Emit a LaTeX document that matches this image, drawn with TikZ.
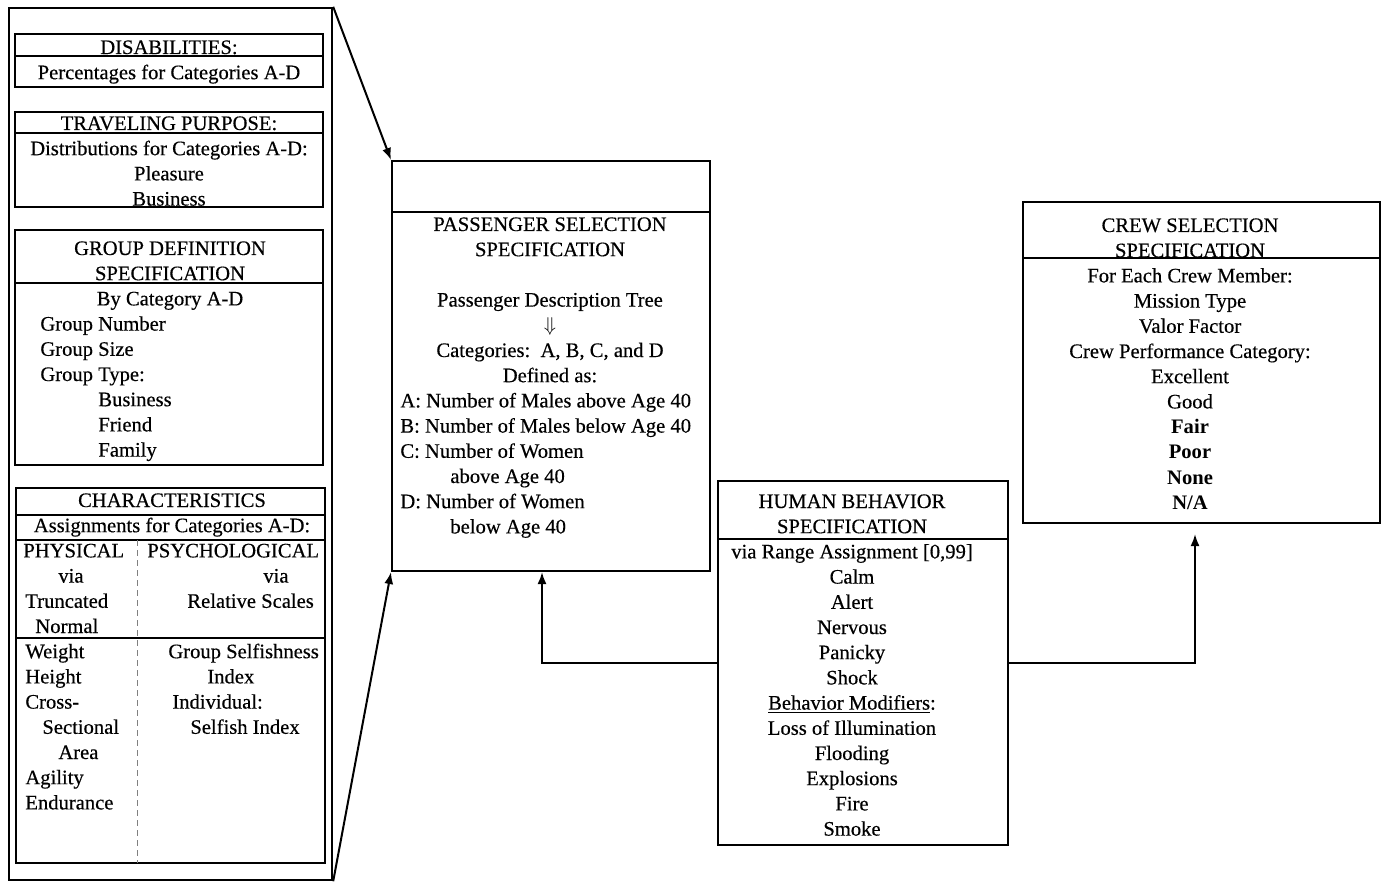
\documentclass[tikz,border=0pt]{standalone}
\usepackage{fontspec}
\setmainfont{Liberation Serif}[UprightFeatures={FakeBold=0.4}]
\usetikzlibrary{fit, arrows.meta}

\newcommand\specfont{\fontsize{10.3}{12.6}\selectfont}
\newcommand\specstep{25.2}
% centred rows: name, x, first baseline, texts
\newcommand\speclines[4]{
  \foreach \t [count=\i from 0] in {#4}
    \node[txt] (#1-\i) at (#2, #3 + \specstep*\i) {\t};
}
% left aligned rows: name, first baseline, x/text pairs
\newcommand\specrows[3]{
  \foreach \px/\t [count=\i from 0] in {#3}
    \node[txtl] (#1-\i) at (\px, #2 + \specstep*\i) {\t};
}

\tikzset{
  box/.style={draw, line width=1pt, inner sep=0pt},
  rule/.style={line width=1pt},
  heavy/.style={line width=1.4pt},
  split/.style={densely dashed, line width=0.4pt, gray},
  txt/.style={font=\specfont, inner sep=0pt, anchor=base},
  txtl/.style={txt, anchor=base west},
  arr/.style={-{Latex[length=6pt, width=4.5pt]}, line width=1pt},
}

\begin{document}
\begin{tikzpicture}[x=0.5pt, y=-0.5pt]
  \useasboundingbox (0,0) rectangle (1386,882);

  % left panel
  \node[box, line width=1.2pt, fit={(9,8) (332,880)}] (pan) {};

  \node[box, fit={(15,34) (323,87)}] (dis) {};
  \draw[rule] (15,56) -- (323,56);
  \speclines{dis}{169}{54}{DISABILITIES:, Percentages for Categories A-D}

  \node[box, fit={(15,112) (323,207)}] (trav) {};
  \draw[rule] (15,133) -- (323,133);
  \speclines{trav}{169}{130}{TRAVELING PURPOSE:, Distributions for Categories A-D:, Pleasure, Business}

  \node[box, fit={(15,230) (323,465)}] (grp) {};
  \draw[rule] (15,283) -- (323,283);
  \speclines{grp}{170}{255}{GROUP DEFINITION, SPECIFICATION, By Category A-D}
  \specrows{grpl}{330.6}{40/Group Number, 40/Group Size, 40/Group Type:, 98/Business, 98/Friend, 98/Family}

  \node[box, fit={(16,488) (325,863)}] (char) {};
  \draw[rule] (16,515) -- (325,515);
  \draw[rule] (16,540) -- (325,540);
  \draw[rule] (16,638) -- (325,638);
  \draw[split] (137,540) -- (137,863);
  \speclines{char}{172}{507}{CHARACTERISTICS, Assignments for Categories A-D:}
  \specrows{phys}{557.4}{23/PHYSICAL, 58/via, 25/Truncated, 35/Normal, 25/Weight, 25/Height,
    25/Cross-, 42/Sectional, 58/Area, 25/Agility, 25/Endurance}
  \specrows{psy}{557.4}{147/PSYCHOLOGICAL, 263/via, 187/Relative Scales}
  \specrows{psyb}{658.2}{168/Group Selfishness, 207/Index, 172/Individual:, 190/Selfish Index}

  % passenger selection
  \node[box, fit={(392,161) (710,571)}] (pass) {};
  \draw[heavy] (392,212) -- (710,212);
  \speclines{pass}{550}{231}{PASSENGER SELECTION, SPECIFICATION}
  \speclines{tree}{550}{306.6}{Passenger Description Tree, $\Downarrow$, {Categories:~~A, B, C, and D}, Defined as:}
  \specrows{cat}{407.4}{400/A: Number of Males above Age 40, 400/B: Number of Males below Age 40,
    400/C: Number of Women, 450/above Age 40, 400/D: Number of Women, 450/below Age 40}

  % human behavior
  \node[box, fit={(718,481) (1008,845)}] (hb) {};
  \draw[heavy] (718,539) -- (1008,539);
  \speclines{hb}{852}{508}{HUMAN BEHAVIOR, SPECIFICATION, {via Range Assignment [0,99]}, Calm, Alert,
    Nervous, Panicky, Shock, \underline{Behavior Modifiers}:, Loss of Illumination, Flooding,
    Explosions, Fire, Smoke}

  % crew selection
  \node[box, fit={(1023,202) (1380,523)}] (crew) {};
  \draw[rule] (1023,258) -- (1380,258);
  \speclines{crew}{1190}{232}{CREW SELECTION, SPECIFICATION, For Each Crew Member:, Mission Type,
    Valor Factor, Crew Performance Category:, Excellent, Good, \textbf{Fair}, \textbf{Poor},
    \textbf{None}, \textbf{N/A}}

  % connectors
  \draw[arr] (pan.north east) -- (pass.north west);
  \draw[arr] (pan.south east) -- (pass.south west);
  \draw[arr] (hb.west) -| ([xshift=-4.5pt]pass.south);
  \draw[arr, shorten >=5pt] (hb.east) -| ([xshift=-3.25pt]crew.south);
\end{tikzpicture}
\end{document}
